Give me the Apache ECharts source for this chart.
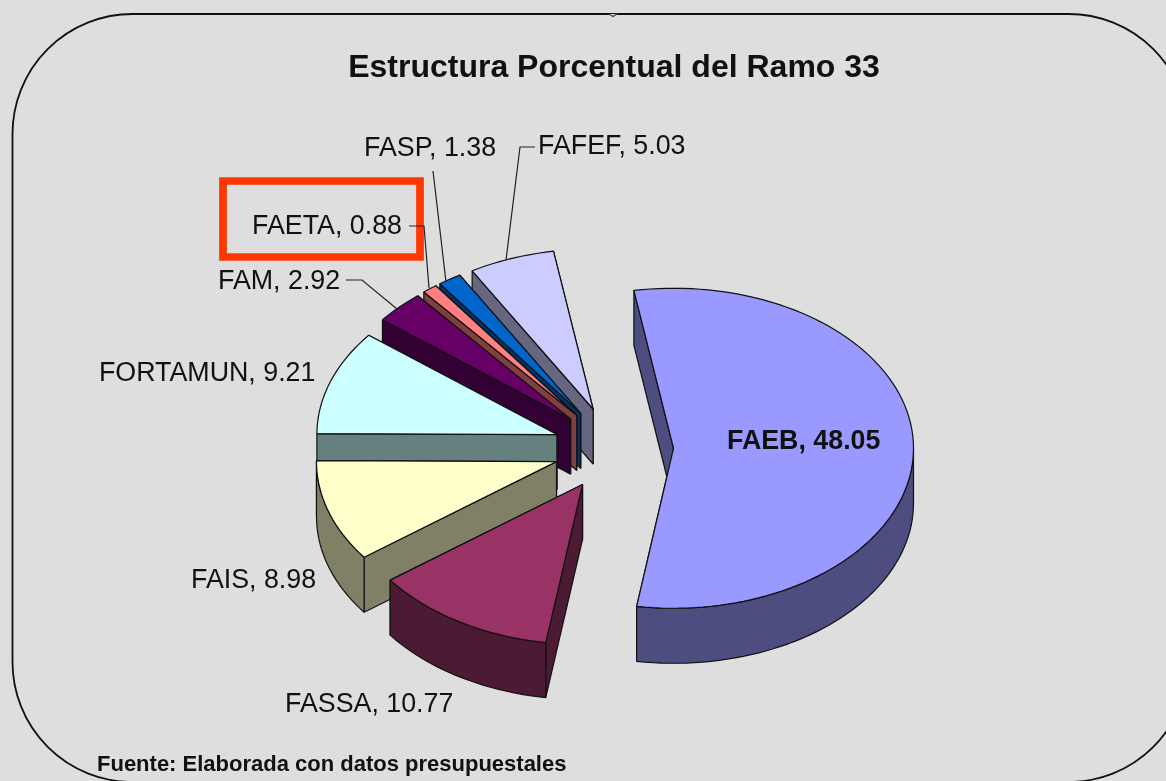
<!DOCTYPE html>
<html>
<head>
<meta charset="utf-8">
<title>Estructura Porcentual del Ramo 33</title>
<style>
html, body { margin: 0; padding: 0; background: #dedede; }
#main { width: 1166px; height: 781px; }
</style>
<script src="https://cdn.jsdelivr.net/npm/echarts@6/dist/echarts.min.js"></script>
</head>
<body>
<div id="main"></div>
<script>
// datos
var categories = ['FAEB', 'FASSA', 'FAIS', 'FORTAMUN', 'FAM', 'FAETA', 'FASP', 'FAFEF'];
var values = [48.05, 10.77, 8.98, 9.21, 2.92, 0.88, 1.38, 5.03];
var colors = ['#9999ff', '#993366', '#ffffcc', '#ccffff', '#660066', '#ff8080', '#0066cc', '#ccccff'];

// posicion de cada etiqueta [x izquierda, y centro]
var labelPos = [[727, 442], [285, 705], [191, 581], [99, 374], [218, 282], [252, 227], [364, 149], [538, 147]];
// lineas guia
var leaders = [
    [[346, 280], [362, 280], [397, 309]],
    [[409, 226], [424, 226], [429, 288]],
    [[433, 171], [446, 282]],
    [[535, 147], [520, 147], [506, 260]]
];

var myChart = echarts.init(document.getElementById('main'));

// geometria del pastel 3D
var cx = 613.5, cy = 448.5;
var rx = 240, ry = 160;
var explodeX = 60, explodeY = 42;
var depth = 55;
var firstAngle = -9.5;

var total = values.reduce(function (a, b) { return a + b; }, 0);
var slices = [];
var acc = firstAngle;
values.forEach(function (v, i) {
    var sweep = v / total * 360;
    slices.push({ value: [v, acc, acc + sweep, i], name: categories[i] });
    acc += sweep;
});
// se pinta de atras hacia adelante
var drawOrder = slices.slice().reverse();

function pt(deg, ox, oy) {
    var r = deg * Math.PI / 180;
    return [ox + rx * Math.sin(r), oy - ry * Math.cos(r)];
}
function down(p) {
    return [p[0], p[1] + depth];
}
function arc(a0, a1, ox, oy) {
    var n = Math.max(2, Math.ceil((a1 - a0) / 2));
    var pts = [];
    for (var i = 0; i <= n; i++) {
        pts.push(pt(a0 + (a1 - a0) * i / n, ox, oy));
    }
    return pts;
}
// color de las paredes: la mitad del color de la cara
function darken(color) {
    var c = echarts.color.parse(color);
    return 'rgb(' + Math.round(c[0] / 2) + ',' + Math.round(c[1] / 2) + ',' + Math.round(c[2] / 2) + ')';
}
function poly(points, fill) {
    return {
        type: 'polygon',
        shape: { points: points },
        style: { fill: fill, stroke: '#111', lineWidth: 1.2, lineJoin: 'bevel' }
    };
}

function renderSlice(params, api) {
    var a0 = api.value(1), a1 = api.value(2), idx = api.value(3);
    var mid = (a0 + a1) / 2 * Math.PI / 180;
    var ox = cx + explodeX * Math.sin(mid);
    var oy = cy - explodeY * Math.cos(mid);
    var apex = [ox, oy];
    var top = colors[idx];
    var side = darken(top);
    var children = [];

    // paredes radiales
    var p0 = pt(a0, ox, oy), p1 = pt(a1, ox, oy);
    children.push(poly([apex, p1, down(p1), down(apex)], side));
    children.push(poly([apex, p0, down(p0), down(apex)], side));

    // pared exterior, solo la mitad de enfrente
    var from = Math.max(a0, 90), to = Math.min(a1, 270);
    if (to > from) {
        var front = arc(from, to, ox, oy);
        children.push(poly(front.concat(front.map(down).reverse()), side));
    }

    // cara superior
    children.push(poly([apex].concat(arc(a0, a1, ox, oy)), top));

    return { type: 'group', children: children };
}

function renderLabel(params, api) {
    var idx = api.value(3);
    return {
        type: 'text',
        z2: 20,
        style: {
            x: labelPos[idx][0],
            y: labelPos[idx][1],
            text: categories[idx] + ', ' + values[idx].toFixed(2),
            fill: '#111',
            font: (idx === 0 ? 'bold ' : '') + '26.8px "Liberation Sans"',
            verticalAlign: 'middle',
            align: 'left'
        }
    };
}

var graphics = [{
    type: 'rect',
    z: 0,
    shape: { x: 12.5, y: 14, width: 1176, height: 768, r: 120 },
    style: { fill: '#dedede', stroke: '#111', lineWidth: 1.8 }
}, {
    // muesca del borde superior
    type: 'polyline',
    z: 1,
    shape: { points: [[609, 14], [613, 16.5], [617, 14]] },
    style: { fill: '#dedede', stroke: '#444', lineWidth: 1.4 }
}, {
    type: 'rect',
    z: 10,
    shape: { x: 223, y: 181, width: 197, height: 76 },
    style: { fill: null, stroke: '#ff3800', lineWidth: 7.7 }
}, {
    type: 'text',
    z: 10,
    style: {
        x: 97, y: 765,
        text: 'Fuente: Elaborada con datos presupuestales',
        fill: '#111',
        font: 'bold 22px "Liberation Sans"',
        verticalAlign: 'middle'
    }
}];
leaders.forEach(function (line) {
    graphics.push({
        type: 'polyline',
        z: 10,
        shape: { points: line },
        style: { fill: null, stroke: '#222', lineWidth: 1.2 }
    });
});

option = {
    backgroundColor: '#dedede',
    animation: false,
    title: {
        text: 'Estructura Porcentual del Ramo 33',
        left: 609,
        top: 47,
        textAlign: 'center',
        textStyle: { fontFamily: 'Liberation Sans', fontWeight: 'bold', fontSize: 32, color: '#111' }
    },
    graphic: graphics,
    series: [{
        type: 'custom',
        coordinateSystem: 'none',
        renderItem: renderSlice,
        data: drawOrder,
        silent: true,
        z: 2
    }, {
        type: 'custom',
        coordinateSystem: 'none',
        renderItem: renderLabel,
        data: slices,
        silent: true,
        z: 3
    }]
};

myChart.setOption(option);
</script>
</body>
</html>
